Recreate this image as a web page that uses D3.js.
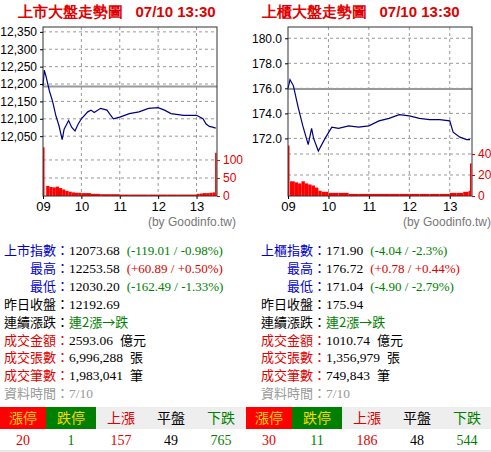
<!DOCTYPE html>
<html><head><meta charset="utf-8">
<script src="https://cdn.jsdelivr.net/npm/d3@7"></script>
<style>body{margin:0;background:#fff}svg{display:block}</style>
</head><body>
<script>
// 上市 price (time in minutes from 09:00)
const twseTime  = [0,2,5,10,15,20,25,30,33,40,45,50,55,60,70,75,80,90,100,105,110,120,135,150,165,180,190,200,220,240,250,255,260,265,270];
const twsePrice = [12195,12240,12220,12180,12150,12110,12080,12040,12070,12095,12075,12065,12085,12100,12120,12125,12118,12130,12125,12112,12100,12105,12115,12120,12130,12132,12125,12115,12110,12110,12100,12085,12078,12076,12073];
const twseVolT  = [0,5,10,15,20,25,30,35,40,45,50,55,60,75,90,105,120,135,150,165,180,195,210,225,240,245,250,255,260,265,269];
const twseVol   = [135,28,25,24,26,22,18,14,12,10,9,9,8,6,5,5,4,4,4,4,4,4,4,4,6,7,8,8,9,10,120];
// 上櫃
const tpexTime  = [0,3,8,15,22,30,35,38,45,55,65,75,90,105,120,135,150,165,180,195,210,225,240,245,255,265,270];
const tpexPrice = [176.0,176.7,176.2,174.5,173.0,171.5,172.8,172.0,171.0,172.0,172.9,172.8,173.0,172.9,173.0,173.4,173.6,173.9,173.8,173.6,173.5,173.5,173.4,172.5,172.1,171.9,171.9];
const tpexVolT  = [0,3,10,15,20,25,30,35,40,45,50,55,60,75,90,105,120,135,150,165,180,195,210,225,240,250,260,268,270];
const tpexVol   = [48,14,13,12,14,12,11,10,8,5,4,4,3,3,2,2,2,2,2,2,2,2,2,2,3,3,4,5,31];
const hourLabels = ["09","10","11","12","13"];

const W = 491, H = 452;
const svg = d3.select("body").append("svg").attr("width", W).attr("height", H)
  .attr("font-family", "Arial, 'Liberation Sans', sans-serif");

function chart(o) {
  const g = svg.append("g");
  const x = d3.scaleLinear().domain([0, o.xMax]).range([o.x0, o.x1]);
  const y = d3.scaleLinear().domain(o.pDom).range([196, 27]);
  const yv = d3.scaleLinear().domain([0, o.vMax]).range([196, 27]);

  g.append("text").attr("x", o.tx).attr("y", 17).attr("fill", "#e00000")
    .attr("font-size", 15).attr("font-weight", "bold").attr("xml:space", "preserve")
    .text(o.title + "   07/10 13:30");

  // grid
  const gy = o.pTicks.map(y).concat(o.vGrid.map(yv));
  gy.forEach(v => g.append("line").attr("x1", o.x0).attr("x2", o.x1).attr("y1", v).attr("y2", v)
    .attr("stroke", "#999").attr("stroke-dasharray", "3,3"));
  [60,120,180,240].forEach(t => g.append("line").attr("x1", x(t)).attr("x2", x(t)).attr("y1", 27).attr("y2", 196)
    .attr("stroke", "#999").attr("stroke-dasharray", "3,3"));
  // prev close
  g.append("line").attr("x1", o.x0).attr("x2", o.x1).attr("y1", y(o.prev)).attr("y2", y(o.prev))
    .attr("stroke", "#999").attr("stroke-width", 2);

  // volume
  const vt = o.volT;
  vt.forEach((t, i) => {
    const t2 = i < vt.length - 1 ? vt[i + 1] : t + 1;
    g.append("rect").attr("x", x(t)).attr("y", yv(o.vol[i]))
      .attr("width", i === 0 || i === vt.length - 1 ? 1.5 : Math.max(1, x(t2) - x(t)))
      .attr("height", 196 - yv(o.vol[i])).attr("fill", "#ff0000");
  });

  // price
  g.append("path").datum(o.time.map((t, i) => [t, o.price[i]]))
    .attr("d", d3.line().x(d => x(d[0])).y(d => y(d[1])))
    .attr("fill", "none").attr("stroke", "#000080").attr("stroke-width", 1.2);

  g.append("rect").attr("x", o.x0).attr("y", 27).attr("width", o.x1 - o.x0).attr("height", 169)
    .attr("fill", "none").attr("stroke", "#333");

  // axes
  const ax = g.append("g").attr("transform", `translate(${o.x0},0)`)
    .call(d3.axisLeft(y).tickValues(o.pTicks).tickFormat(o.pFmt).tickSize(3));
  ax.select(".domain").remove();
  ax.selectAll("text").attr("font-size", 12).attr("fill", "#000");
  const av = g.append("g").attr("transform", `translate(${o.x1},0)`)
    .call(d3.axisRight(yv).tickValues(o.vTicks).tickSize(3));
  av.select(".domain").remove();
  av.selectAll("line").attr("stroke", "#e00000");
  av.selectAll("text").attr("font-size", 12).attr("fill", "#e00000");
  const axx = g.append("g").attr("transform", "translate(0,196)")
    .call(d3.axisBottom(x).tickValues([0,60,120,180,240]).tickFormat((d, i) => hourLabels[i]).tickSize(3));
  axx.select(".domain").remove();
  axx.selectAll("text").attr("font-size", 13).attr("fill", "#000");
  g.append("text").attr("x", o.x1 + 19).attr("y", 226).attr("text-anchor", "end")
    .attr("font-size", 12).attr("fill", "#777").text("(by Goodinfo.tw)");
}

chart({ x0: 43, x1: 217, xMax: 272, tx: 18, title: "上市大盤走勢圖",
  pDom: [11878, 12364], pTicks: [12050,12100,12150,12200,12250,12300,12350],
  pFmt: d3.format(","), prev: 12192.69, vMax: 469, vTicks: [0,50,100], vGrid: [50,100],
  time: twseTime, price: twsePrice, volT: twseVolT, vol: twseVol });
chart({ x0: 288, x1: 472, xMax: 273, tx: 262, title: "上櫃大盤走勢圖",
  pDom: [167.4, 180.9], pTicks: [172,174,176,178,180],
  pFmt: d3.format(".1f"), prev: 175.94, vMax: 161, vTicks: [0,20,40], vGrid: [20,40],
  time: tpexTime, price: tpexPrice, volT: tpexVolT, vol: tpexVol });

// info rows
const BL = "#0000cc", RD = "#e00000", GR = "#008000", GY = "#999", BK = "#000";
const twseRows = [
  ["上市指數", BL, "12073.68", "(-119.01 / -0.98%)", GR],
  ["最高", BL, "12253.58", "(+60.89 / +0.50%)", RD],
  ["最低", BL, "12030.20", "(-162.49 / -1.33%)", GR],
  ["昨日收盤", BK, "12192.69", "", BK],
  ["連續漲跌", BK, "", "連2漲→跌", GR],
  ["成交金額", RD, "2593.06", "億元", BK],
  ["成交張數", RD, "6,996,288", "張", BK],
  ["成交筆數", RD, "1,983,041", "筆", BK],
  ["資料時間", GY, "7/10", "", GY]];
const tpexRows = [
  ["上櫃指數", BL, "171.90", "(-4.04 / -2.3%)", GR],
  ["最高", BL, "176.72", "(+0.78 / +0.44%)", RD],
  ["最低", BL, "171.04", "(-4.90 / -2.79%)", GR],
  ["昨日收盤", BK, "175.94", "", BK],
  ["連續漲跌", BK, "", "連2漲→跌", GR],
  ["成交金額", RD, "1010.74", "億元", BK],
  ["成交張數", RD, "1,356,979", "張", BK],
  ["成交筆數", RD, "749,843", "筆", BK],
  ["資料時間", GY, "7/10", "", GY]];
const cjk = "'Noto Sans CJK TC', sans-serif", serif = "'Liberation Serif','DejaVu Serif',serif";
function rows(data, lx) {
  data.forEach((r, i) => {
    const yy = 255 + i * 17.9;
    svg.append("text").attr("x", lx + 66).attr("y", yy).attr("font-size", 13)
      .attr("text-anchor", "end").attr("font-family", cjk).attr("fill", r[1]).text(r[0] + "：");
    const v = svg.append("text").attr("x", lx + 66).attr("y", yy).attr("font-size", 13.5).attr("font-family", serif);
    v.append("tspan").attr("fill", r[1] === GY ? GY : BK).text(r[2]);
    if (r[3]) v.append("tspan").attr("dx", r[2] ? 7 : 0).attr("fill", r[4])
      .attr("font-family", /[\u4e00-\u9fff]/.test(r[3]) ? cjk : serif).attr("font-size", 13).text(r[3]);
  });
}
rows(twseRows, 3); rows(tpexRows, 260);

// limit table
const heads = ["漲停","跌停","上漲","平盤","下跌"];
const twseCnt = [20,1,157,49,765], tpexCnt = [30,11,186,48,544];
const headBg = ["#ff0000","#008000","#eeeeee","#eeeeee","#eeeeee"];
const headFg = ["#ffd700","#ffd700",RD,BK,GR];
const cntFg = [RD,GR,RD,BK,GR];
function table(cnt, x0) {
  const xs = [0,46,96,146,196,246].map(v => v + x0);
  heads.forEach((h, i) => {
    svg.append("rect").attr("x", xs[i]).attr("y", 407).attr("width", xs[i+1] - xs[i]).attr("height", 22).attr("fill", headBg[i]);
    const cx = (xs[i] + xs[i+1]) / 2;
    svg.append("text").attr("x", cx).attr("y", 423).attr("text-anchor", "middle").attr("font-size", 14)
      .attr("font-family", cjk).attr("fill", headFg[i]).text(h);
    svg.append("text").attr("x", cx).attr("y", 445).attr("text-anchor", "middle").attr("font-size", 14)
      .attr("font-family", serif).attr("fill", cntFg[i]).text(cnt[i]);
  });
}
table(twseCnt, 0); table(tpexCnt, 246);
svg.append("rect").attr("x", 0).attr("y", 450).attr("width", W).attr("height", 2).attr("fill", "#e8e8e8");
</script>
</body></html>
